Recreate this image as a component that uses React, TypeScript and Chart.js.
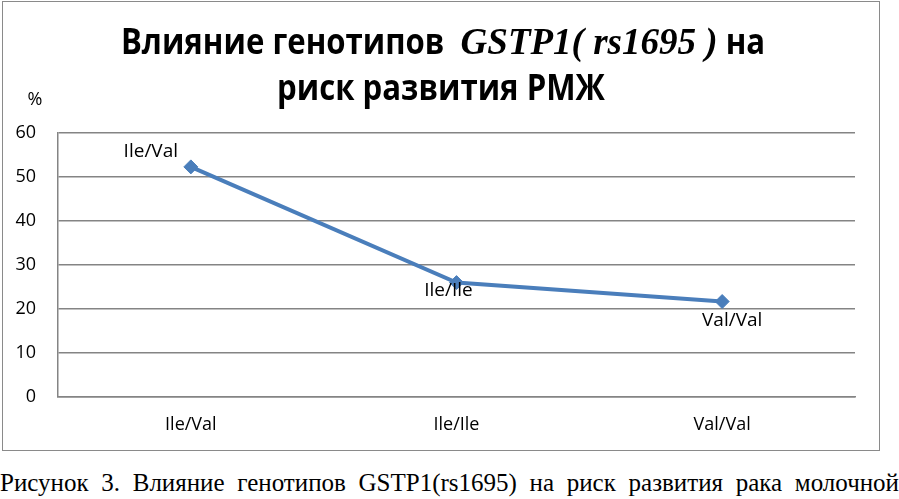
import React, { useEffect, useRef } from "react";
import { Chart, registerables } from "chart.js";

Chart.register(...registerables);

// ---- data ----
const categories = ["Ile/Val", "Ile/Ile", "Val/Val"];
const riskValues = [52.3, 26, 21.7];
const pointLabels = ["Ile/Val", "Ile/Ile", "Val/Val"];
const yMin = 0;
const yMax = 60;
const yStep = 10;
const yUnit = "%";
const titleSansA = "Влияние генотипов  ";
const titleGene = "GSTP1( rs1695 )";
const titleSansB = " на";
const titleLine2 = "риск развития РМЖ";
const caption =
  "Рисунок 3. Влияние генотипов GSTP1(rs1695) на риск развития рака молочной";

// ---- styles ----
const LINE_BLUE = "#4a7ebb";
const GRID = "#848484";
const SANS = "'Open Sans', 'DejaVu Sans', sans-serif";
const SERIF = "'Liberation Serif', 'Times New Roman', serif";
const LABEL_SHIFT: [number, number][] = [
  [-40, -15],
  [-8, 8],
  [10, 19],
];

const overlayPlugin = {
  id: "overlay",
  afterDraw(chart: any) {
    const ctx: CanvasRenderingContext2D = chart.ctx;
    const area = chart.chartArea;
    ctx.save();
    ctx.fillStyle = "#000";

    // data labels
    ctx.font = `19px ${SANS}`;
    ctx.textAlign = "center";
    ctx.textBaseline = "middle";
    const meta = chart.getDatasetMeta(0);
    meta.data.forEach((pt: any, i: number) => {
      const [dx, dy] = LABEL_SHIFT[i];
      ctx.fillText(pointLabels[i], pt.x + dx, pt.y + dy);
    });

    // unit label
    ctx.font = `18px ${SANS}`;
    ctx.fillText(yUnit, area.left - 23, area.top - 33);

    // title
    const sx = 0.89;
    const sansFont = `bold 35px ${SANS}`;
    const serifFont = `bold italic 37px ${SERIF}`;
    ctx.textAlign = "left";
    ctx.textBaseline = "alphabetic";
    ctx.font = sansFont;
    const wA = ctx.measureText(titleSansA).width * sx;
    const wB = ctx.measureText(titleSansB).width * sx;
    const w2 = ctx.measureText(titleLine2).width * sx;
    ctx.font = serifFont;
    const wG = ctx.measureText(titleGene).width;
    const cx = 443;
    let x = cx - (wA + wG + wB) / 2;
    const y1 = 54;
    const drawScaled = (t: string, xx: number, yy: number) => {
      ctx.save();
      ctx.translate(xx, yy);
      ctx.scale(sx, 1);
      ctx.font = sansFont;
      ctx.fillText(t, 0, 0);
      ctx.restore();
    };
    drawScaled(titleSansA, x, y1);
    x += wA;
    ctx.font = serifFont;
    ctx.fillText(titleGene, x, y1);
    x += wG;
    drawScaled(titleSansB, x, y1);
    drawScaled(titleLine2, 441 - w2 / 2, 100);

    ctx.restore();
  },
};

export default function App() {
  const ref = useRef<HTMLCanvasElement | null>(null);

  useEffect(() => {
    document.body.style.margin = "0";
    const canvas = ref.current;
    if (!canvas) return;
    const chart = new Chart(canvas, {
      type: "line",
      data: {
        labels: categories,
        datasets: [
          {
            data: riskValues,
            borderColor: LINE_BLUE,
            backgroundColor: LINE_BLUE,
            borderWidth: 4,
            tension: 0,
            pointStyle: "rectRot",
            pointRadius: 7,
            pointBackgroundColor: LINE_BLUE,
            pointBorderColor: LINE_BLUE,
            pointBorderWidth: 1,
          },
        ],
      },
      options: {
        responsive: false,
        animation: false,
        devicePixelRatio: 1,
        layout: { padding: { top: 133, left: 0, right: 44, bottom: 0 } },
        plugins: {
          legend: { display: false },
          tooltip: { enabled: false },
          title: { display: false },
        },
        scales: {
          x: {
            offset: true,
            grid: { display: false, drawTicks: false },
            border: { display: true, color: GRID, width: 1.5 },
            ticks: {
              color: "#000",
              font: { family: SANS, size: 18 },
              padding: 17,
            },
            afterFit(scale: any) {
              scale.height = 59;
            },
          },
          y: {
            min: yMin,
            max: yMax,
            grid: { color: GRID, lineWidth: 1.5, drawTicks: false },
            border: { display: true, color: GRID, width: 1.5 },
            ticks: {
              stepSize: yStep,
              color: "#000",
              font: { family: SANS, size: 18 },
              padding: 22,
            },
            afterFit(scale: any) {
              scale.width = 58;
            },
          },
        },
      },
      plugins: [overlayPlugin],
    });
    return () => chart.destroy();
  }, []);

  return (
    <div style={{ position: "relative", width: 899, height: 499, background: "#fff", overflow: "hidden" }}>
      <canvas ref={ref} width={899} height={456} style={{ position: "absolute", left: 0, top: 0 }} />
      <div
        style={{
          position: "absolute",
          left: 2,
          top: 1,
          width: 876,
          height: 448,
          border: "1.5px solid #8a8a8a",
          pointerEvents: "none",
        }}
      />
      <div
        style={{
          position: "absolute",
          left: 0,
          top: 469,
          width: 899,
          fontFamily: SERIF,
          fontSize: 25,
          lineHeight: "27px",
          textAlign: "justify",
          textAlignLast: "justify",
          color: "#000",
        }}
      >
        {caption}
      </div>
    </div>
  );
}
